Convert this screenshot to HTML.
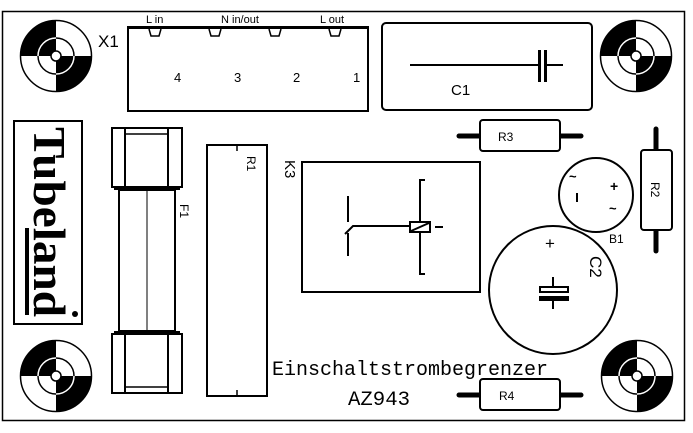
<!DOCTYPE html>
<html><head><meta charset="utf-8"><style>
html,body{margin:0;padding:0;background:#fff;}
svg{display:block;}
text{font-family:"Liberation Sans",sans-serif;fill:#000;}
</style></head><body>
<svg width="693" height="433" viewBox="0 0 693 433" xmlns="http://www.w3.org/2000/svg">
<defs>
<g id="hole">
 <circle cx="0" cy="0" r="35.5" fill="#fff" stroke="#000" stroke-width="1.5"/>
 <path d="M0,0 L-35.5,0 A35.5,35.5 0 0 1 0,-35.5 Z" fill="#000"/>
 <path d="M0,0 L35.5,0 A35.5,35.5 0 0 1 0,35.5 Z" fill="#000"/>
 <circle cx="0" cy="0" r="18" fill="none" stroke="#000" stroke-width="1.5"/>
 <path d="M-18,0 A18,18 0 0 1 0,-18" fill="none" stroke="#fff" stroke-width="1.5"/>
 <path d="M18,0 A18,18 0 0 1 0,18" fill="none" stroke="#fff" stroke-width="1.5"/>
 <circle cx="0" cy="0" r="5" fill="#fff" stroke="#000" stroke-width="1.5"/>
</g>
<g id="res">
 <line x1="-61" y1="0" x2="-40" y2="0" stroke="#000" stroke-width="5" stroke-linecap="round"/>
 <line x1="40" y1="0" x2="61" y2="0" stroke="#000" stroke-width="5" stroke-linecap="round"/>
 <rect x="-40" y="-16" width="80" height="31" rx="3" fill="#fff" stroke="#000" stroke-width="2"/>
</g>
</defs>

<rect x="2.5" y="11.5" width="682" height="409" fill="none" stroke="#000" stroke-width="1.5"/>

<use href="#hole" x="56" y="56"/>
<use href="#hole" x="636" y="56"/>
<use href="#hole" x="56" y="376"/>
<use href="#hole" x="637" y="376"/>

<!-- X1 -->
<rect x="128" y="27" width="240" height="84" fill="none" stroke="#000" stroke-width="2"/>
<line x1="127" y1="27.5" x2="369" y2="27.5" stroke="#000" stroke-width="3"/>
<g fill="none" stroke="#000" stroke-width="1.5">
 <path d="M149,29 L151,36 L159,36 L161,29"/>
 <path d="M209,29 L211,36 L219,36 L221,29"/>
 <path d="M269,29 L271,36 L279,36 L281,29"/>
 <path d="M329,29 L331,36 L339,36 L341,29"/>
</g>
<text x="146" y="23" font-size="11">L in</text>
<text x="221" y="23" font-size="11">N in/out</text>
<text x="320" y="23" font-size="11">L out</text>
<text x="98" y="47" font-size="17">X1</text>
<text x="174" y="82" font-size="13">4</text>
<text x="234" y="82" font-size="13">3</text>
<text x="293" y="82" font-size="13">2</text>
<text x="353" y="82" font-size="13">1</text>

<!-- C1 -->
<rect x="382" y="23" width="210" height="87" rx="4" fill="none" stroke="#000" stroke-width="2"/>
<line x1="410" y1="65" x2="539" y2="65" stroke="#000" stroke-width="2"/>
<line x1="546" y1="65" x2="563" y2="65" stroke="#000" stroke-width="2"/>
<line x1="539.5" y1="50" x2="539.5" y2="82" stroke="#000" stroke-width="3"/>
<line x1="545.5" y1="50" x2="545.5" y2="82" stroke="#000" stroke-width="3"/>
<text x="451" y="95" font-size="15">C1</text>

<!-- Tubeland logo -->
<rect x="14" y="121" width="68" height="203" fill="none" stroke="#000" stroke-width="2"/>
<text transform="translate(34,127) rotate(90)" font-size="45" font-weight="bold" style="font-family:'Liberation Serif',serif" textLength="190" lengthAdjust="spacingAndGlyphs">Tubeland</text>
<rect x="25" y="228" width="4" height="87" fill="#000"/>
<circle cx="75" cy="314" r="3" fill="#000"/>

<!-- F1 -->
<g fill="none" stroke="#000" stroke-width="2">
 <rect x="112" y="128" width="70" height="59"/>
 <line x1="125" y1="128" x2="125" y2="187"/>
 <line x1="168" y1="128" x2="168" y2="187"/>
 <line x1="125" y1="134" x2="168" y2="134" stroke-width="1.5"/>
 <rect x="119" y="190" width="56" height="141"/>
 <line x1="147" y1="190" x2="147" y2="331" stroke-width="1"/>
 <rect x="112" y="334" width="70" height="59"/>
 <line x1="125" y1="334" x2="125" y2="393"/>
 <line x1="168" y1="334" x2="168" y2="393"/>
 <line x1="125" y1="387" x2="168" y2="387" stroke-width="1.5"/>
</g>
<rect x="114" y="186" width="66" height="4" fill="#000"/>
<rect x="114" y="331" width="66" height="4" fill="#000"/>
<text transform="translate(180,204) rotate(90)" font-size="12">F1</text>

<!-- R1 -->
<rect x="207" y="145" width="60" height="251" fill="none" stroke="#000" stroke-width="2"/>
<line x1="237" y1="145" x2="237" y2="151" stroke="#000" stroke-width="1.5"/>
<line x1="237" y1="390" x2="237" y2="396" stroke="#000" stroke-width="1.5"/>
<text transform="translate(247,156) rotate(90)" font-size="12">R1</text>

<!-- K3 -->
<rect x="302" y="162" width="178" height="130" fill="none" stroke="#000" stroke-width="2"/>
<text transform="translate(285,160) rotate(90)" font-size="15">K3</text>
<g fill="none" stroke="#000" stroke-width="2">
 <line x1="348" y1="196" x2="348" y2="222"/>
 <line x1="348" y1="233" x2="348" y2="256"/>
 <polyline points="345,234 353,226 409,226"/>
 <polyline points="425,180 420,180 420,222"/>
 <polyline points="420,232 420,274 425,274"/>
 <rect x="410" y="222" width="20" height="10"/>
 <line x1="411" y1="231" x2="429" y2="223"/>
 <line x1="435" y1="227" x2="443" y2="227"/>
</g>

<!-- R3, R4 -->
<use href="#res" x="520" y="136"/>
<text x="498" y="141" font-size="12">R3</text>
<use href="#res" x="520" y="395"/>
<text x="499" y="400" font-size="12">R4</text>

<!-- R2 -->
<g transform="translate(656,190) rotate(90)"><use href="#res"/></g>
<text transform="translate(651,182) rotate(90)" font-size="12">R2</text>

<!-- B1 -->
<circle cx="596" cy="195" r="37" fill="none" stroke="#000" stroke-width="2"/>
<text x="569" y="181" font-size="13" font-weight="bold">~</text>
<text x="610" y="191" font-size="14" font-weight="bold">+</text>
<line x1="577" y1="193" x2="577" y2="202" stroke="#000" stroke-width="2"/>
<text x="609" y="213" font-size="13" font-weight="bold">~</text>
<text x="609" y="243" font-size="12">B1</text>

<!-- C2 -->
<circle cx="553" cy="290" r="64" fill="none" stroke="#000" stroke-width="2"/>
<text x="545" y="249" font-size="17">+</text>
<text transform="translate(590,256) rotate(90)" font-size="17">C2</text>
<line x1="553" y1="277" x2="553" y2="287" stroke="#000" stroke-width="2"/>
<rect x="540" y="287" width="28" height="5" fill="none" stroke="#000" stroke-width="2"/>
<rect x="539" y="296" width="30" height="5" fill="#000"/>
<line x1="553" y1="300" x2="553" y2="309" stroke="#000" stroke-width="2"/>

<text x="272" y="375" font-size="20" style="font-family:'Liberation Mono',monospace" textLength="276" lengthAdjust="spacingAndGlyphs">Einschaltstrombegrenzer</text>
<text x="348" y="405" font-size="20" style="font-family:'Liberation Mono',monospace" textLength="62" lengthAdjust="spacingAndGlyphs">AZ943</text>
</svg>
</body></html>
